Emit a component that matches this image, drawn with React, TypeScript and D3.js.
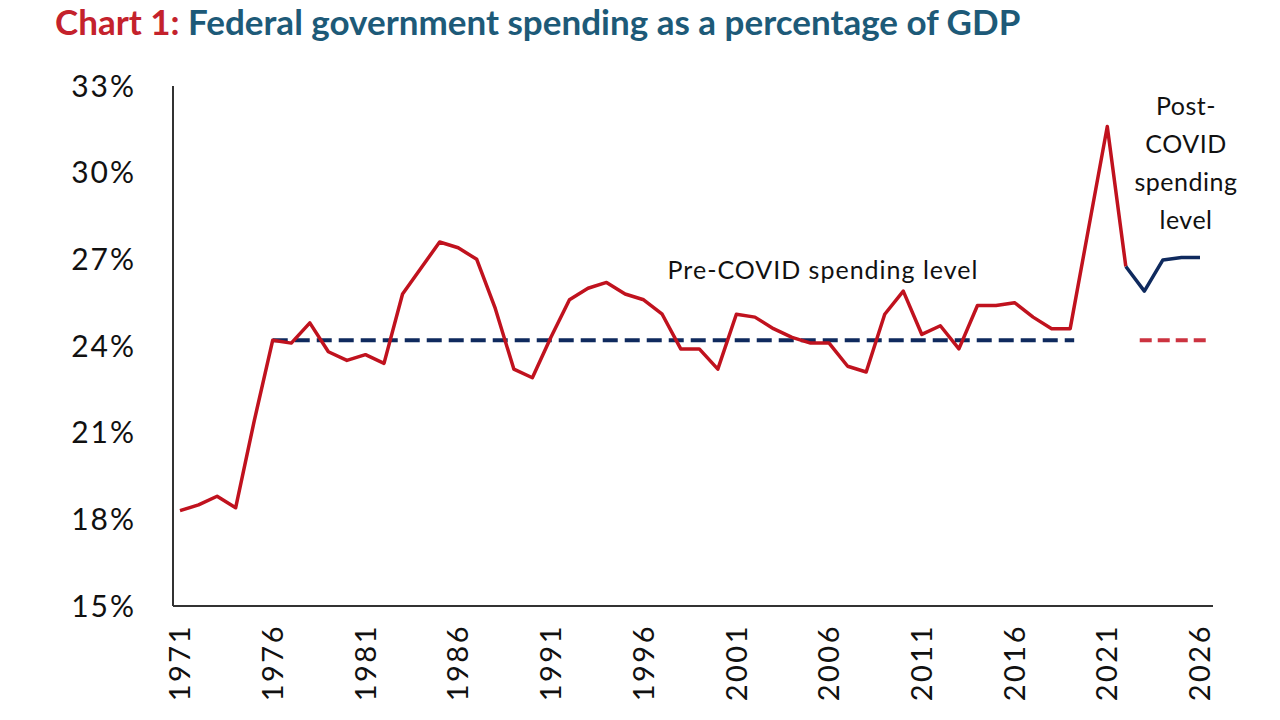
import React from "react";
import * as d3 from "d3";

const years: number[] = d3.range(1971, 2027);
const spendingActual: number[] = [
  18.3, 18.5, 18.8, 18.4, 21.4, 24.2, 24.1, 24.8, 23.8, 23.5,
  23.7, 23.4, 25.8, 26.7, 27.6, 27.4, 27.0, 25.3, 23.2, 22.9,
  24.3, 25.6, 26.0, 26.2, 25.8, 25.6, 25.1, 23.9, 23.9, 23.2,
  25.1, 25.0, 24.6, 24.3, 24.1, 24.1, 23.3, 23.1, 25.1, 25.9,
  24.4, 24.7, 23.9, 25.4, 25.4, 25.5, 25.0, 24.6, 24.6, 28.1,
  31.6, 26.75,
];
const projYears: number[] = [2022, 2023, 2024, 2025, 2026];
const spendingProjected: number[] = [26.75, 25.9, 26.98, 27.06, 27.06];
const preCovidLevel = 24.2;
const preCovidSpan: number[] = [1976, 2019];
const postCovidSpan: number[] = [2022.75, 2026];
const yTicks: number[] = [15, 18, 21, 24, 27, 30, 33];
const xTicks: number[] = [1971, 1976, 1981, 1986, 1991, 1996, 2001, 2006, 2011, 2016, 2021, 2026];

const RED = "#c0121e";
const NAVY = "#0f2a5e";
const FONT = "Lato, 'Open Sans', sans-serif";

export default function App() {
  const W = 1280, H = 720;
  const x = d3.scaleLinear().domain([1971, 2026]).range([180, 1200]);
  const y = d3.scaleLinear().domain([15, 33]).range([606, 86]);
  const line = d3.line<[number, number]>().x(d => x(d[0])).y(d => y(d[1]));
  const actual = years.slice(0, spendingActual.length).map((yr, i) => [yr, spendingActual[i]] as [number, number]);
  const proj = projYears.map((yr, i) => [yr, spendingProjected[i]] as [number, number]);

  return (
    <svg width={W} height={H} style={{ position: "absolute", left: 0, top: 0, background: "#fff" }}>
      <rect width={W} height={H} fill="#fff" />
      <text x={55} y={35} fontFamily={FONT} fontWeight={700} fontSize={35}>
        <tspan fill="#c4222c">Chart 1: </tspan>
        <tspan fill="#1d5a78">Federal government spending as a percentage of GDP</tspan>
      </text>

      {/* axes */}
      <line x1={173} x2={173} y1={y(33)} y2={y(15)} stroke="#333" strokeWidth={2} />
      <line x1={173} x2={1213} y1={y(15)} y2={y(15)} stroke="#333" strokeWidth={2} />

      {yTicks.map(t => (
        <text key={t} x={136} y={y(t)} dy="0.35em" textAnchor="end" fontFamily={FONT} fontSize={30}
          letterSpacing={2} fill="#111">
          {t}%
        </text>
      ))}
      {xTicks.map(t => (
        <text key={t} transform={`translate(${x(t)},624) rotate(-90)`} textAnchor="end" dy="0.35em"
          fontFamily={FONT} fontSize={29} letterSpacing={2.5} fill="#111">
          {t}
        </text>
      ))}

      {/* reference levels */}
      <line x1={x(preCovidSpan[0])} x2={x(preCovidSpan[1]) + 4} y1={y(preCovidLevel)} y2={y(preCovidLevel)}
        stroke={NAVY} strokeWidth={4} strokeDasharray="15 7" />
      <line x1={x(postCovidSpan[0])} x2={x(postCovidSpan[1]) + 6} y1={y(preCovidLevel)} y2={y(preCovidLevel)}
        stroke="#cc3340" strokeWidth={4} strokeDasharray="12 6" />

      {/* series */}
      <path d={line(actual) || ""} fill="none" stroke={RED} strokeWidth={3.5} strokeLinejoin="round" />
      <path d={line(proj) || ""} fill="none" stroke={NAVY} strokeWidth={3.5} strokeLinejoin="round" />

      {/* annotations */}
      <text x={823} y={279} textAnchor="middle" fontFamily={FONT} fontSize={25} letterSpacing={1} fill="#111">
        Pre-COVID spending level
      </text>
      {["Post-", "COVID", "spending", "level"].map((s, i) => (
        <text key={s} x={1186} y={115} dy={i * 38} textAnchor="middle" fontFamily={FONT} fontSize={25}
          letterSpacing={0.5} fill="#111">
          {s}
        </text>
      ))}
    </svg>
  );
}
